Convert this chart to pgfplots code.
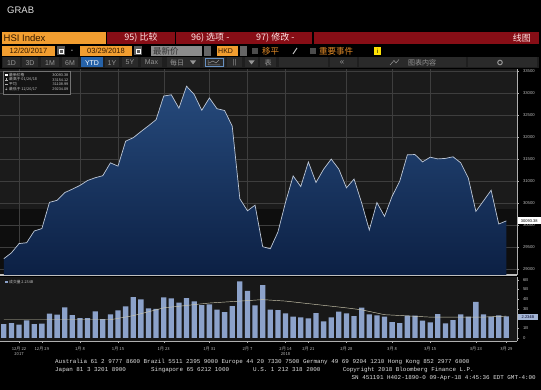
\documentclass[border=0pt]{standalone}
\usepackage{pgfplots}
\usepackage{pgfplotstable}
\pgfplotsset{compat=1.18}
\usepackage{fontspec}
\setmainfont{Liberation Sans}
\setmonofont{Liberation Mono}
\newfontfamily\cjk{Noto Sans CJK SC}
\definecolor{bbred}{RGB}{135,14,22}
\definecolor{bborange}{RGB}{242,158,48}
\definecolor{paneltop}{RGB}{27,27,27}
\definecolor{panelbot}{RGB}{14,14,14}
\definecolor{volpanel}{RGB}{24,24,24}
\definecolor{gridc}{RGB}{62,62,62}
\definecolor{pline}{RGB}{190,200,215}
\definecolor{filltop}{RGB}{38,74,124}
\definecolor{fillbot}{RGB}{12,32,68}
\definecolor{volbar}{RGB}{140,162,202}
\definecolor{macol}{RGB}{205,200,175}
\definecolor{btn}{RGB}{42,42,42}
\definecolor{btntext}{RGB}{150,150,150}
\definecolor{ytdblue}{RGB}{38,98,168}
\definecolor{tickc}{RGB}{185,185,185}
\definecolor{axisc}{RGB}{175,175,175}
\definecolor{cjkorange}{RGB}{228,140,40}

\pgfplotstableread{
i v
0 29234.09
1 29367.06
2 29578.01
3 29597.66
4 29863.71
5 29919.15
6 30515.31
7 30560.95
8 30736.48
9 30814.64
10 30899.53
11 31011.41
12 31073.72
13 31120.39
14 31412.54
15 31338.41
16 31904.75
17 31983.41
18 32121.94
19 32254.89
20 32393.41
21 32930.70
22 32958.69
23 32654.45
24 33154.12
25 32966.89
26 32607.29
27 32887.27
28 32642.09
29 32601.78
30 32245.22
31 30595.42
32 30323.20
33 30451.27
34 29507.42
35 29459.63
36 29839.52
37 30515.60
38 31115.43
39 30873.63
40 31431.89
41 30965.70
42 31267.17
43 31498.60
44 31268.66
45 30844.72
46 31044.25
47 30500.00
48 29886.33
49 30510.73
50 30196.92
51 30654.37
52 30996.21
53 31594.62
54 31601.58
55 31435.01
56 31541.10
57 31501.97
58 31513.76
59 31549.93
60 31414.52
61 31071.05
62 30309.29
63 30548.77
64 30790.83
65 30022.53
66 30093.38
}\pricetab

\pgfplotstableread{
i v
0 1.44
1 1.54
2 1.37
3 1.82
4 1.44
5 1.47
6 2.50
7 2.40
8 3.15
9 2.36
10 2.05
11 2.05
12 2.74
13 1.95
14 2.43
15 2.84
16 3.25
17 4.21
18 3.97
19 3.05
20 3.01
21 4.18
22 4.08
23 3.63
24 4.11
25 3.77
26 3.39
27 3.46
28 2.91
29 2.67
30 3.29
31 5.82
32 4.86
33 3.36
34 5.45
35 2.91
36 2.88
37 2.53
38 2.19
39 2.12
40 2.02
41 2.57
42 1.71
43 2.12
44 2.71
45 2.53
46 2.26
47 3.12
48 2.43
49 2.33
50 2.19
51 1.64
52 1.54
53 2.29
54 2.29
55 1.78
56 1.61
57 2.47
58 1.51
59 1.85
60 2.43
61 2.19
62 3.73
63 2.43
64 2.19
65 2.33
66 2.23
}\voltab

\begin{document}
\begin{tikzpicture}
\useasboundingbox (0pt,0pt) rectangle (541pt,-390pt);
\fill[black] (0pt,0pt) rectangle (541pt,-390pt);
\begin{scope}[x=1pt,y=-1pt]
% title
\node[anchor=west,inner sep=0,text=white!88!black,font=\fontsize{9.5}{10}\selectfont] at (7,10) {GRAB};
% row 1
\fill[bborange] (2,32) rectangle (106,44);
\node[anchor=west,inner sep=0,text=black!80!orange,font=\fontsize{9.5}{10}\selectfont] at (3.5,38.5) {HSI Index};
\fill[bbred] (107,32) rectangle (175,44);
\node[inner sep=0,text=white!90!red,font=\cjk\fontsize{9}{10}\selectfont] at (141,38) {95) 比较};
\fill[bbred] (176,32) rectangle (312,44);
\node[anchor=west,inner sep=0,text=white!90!red,font=\cjk\fontsize{9}{10}\selectfont] at (191,38) {96) 选项 -};
\node[anchor=west,inner sep=0,text=white!90!red,font=\cjk\fontsize{9}{10}\selectfont] at (256,38) {97) 修改 -};
\fill[bbred] (314,32) rectangle (539,44);
\node[anchor=east,inner sep=0,text=white!90!red,font=\cjk\fontsize{9}{10}\selectfont] at (531,38) {线图};
% row 2
\fill[bborange] (2,46) rectangle (55,56);
\node[inner sep=0,text=black!80!orange,font=\fontsize{7.5}{8}\selectfont] at (28.5,51.2) {12/20/2017};
\fill[black!65] (57,46.5) rectangle (65,55.5); \draw[white,line width=0.5pt] (58.8,48.8) rectangle (63.2,53.4);
\node[inner sep=0,text=white,font=\fontsize{7}{8}\selectfont] at (72,51) {-};
\fill[bborange] (80,46) rectangle (132,56);
\node[inner sep=0,text=black!80!orange,font=\fontsize{7.5}{8}\selectfont] at (106,51.2) {03/29/2018};
\fill[black!65] (134,46.5) rectangle (142,55.5); \draw[white,line width=0.5pt] (135.8,48.8) rectangle (140.2,53.4);
\fill[black!45] (151,46) rectangle (202,56);
\node[anchor=west,inner sep=0,text=black!80,font=\cjk\fontsize{8.5}{9}\selectfont] at (153,51) {最新价};
\fill[black!60] (204,46) rectangle (211,56);
\fill[bborange] (217,46) rectangle (238,56);
\node[anchor=west,inner sep=0,text=black!80!orange,font=\fontsize{7}{8}\selectfont] at (218,51.2) {HKD};
\fill[black!60] (240,46) rectangle (247,56);
\fill[black!70] (252,48) rectangle (257.5,54);
\node[anchor=west,inner sep=0,text=cjkorange,font=\cjk\fontsize{8.5}{9}\selectfont] at (262,51) {移平};
\draw[white!80!black,line width=0.9pt] (293,54) -- (297,48);
\fill[black!70] (310,48) rectangle (315.5,54);
\node[anchor=west,inner sep=0,text=cjkorange,font=\cjk\fontsize{8.5}{9}\selectfont] at (319,51) {重要事件};
\fill[yellow!85!orange] (374,47) rectangle (381,55);
\node[inner sep=0,text=black,font=\fontsize{6}{7}\selectfont] at (377.5,51) {i};
% row 3
\fill[black!88] (2,57) rectangle (539,68);
\foreach \a/\b/\t in {3/20/1D,22/38/3D,41/59/1M,62/78/6M,105/119/1Y,122/138/5Y,141/162/Max}{
  \fill[btn] (\a,57.5) rectangle (\b,67.5);
  \node[inner sep=0,text=btntext,font=\fontsize{7}{8}\selectfont] at ({(\a+\b)/2},62.6) {\t};
}
\fill[ytdblue] (81,57.5) rectangle (103,67.5);
\node[inner sep=0,text=white,font=\fontsize{7}{8}\selectfont] at (92,62.6) {YTD};
\fill[btn] (167,57.5) rectangle (200,67.5);
\node[anchor=west,inner sep=0,text=btntext,font=\cjk\fontsize{7}{8}\selectfont] at (170,62.4) {每日};
\fill[btntext] (190,60.5) -- (196,60.5) -- (193,64.5) -- cycle;
\fill[btn] (203,57.5) rectangle (225,67.5);
\draw[ytdblue!70!white,line width=0.5pt] (205,58.5) rectangle (223,66.5);
\draw[btntext,line width=0.5pt] (208,65) -- (208,60) (208,65) -- (220,65) (209,63) -- (213,61) -- (216,63) -- (219,60);
\fill[btn] (227,57.5) rectangle (242,67.5);
\node[inner sep=0,text=btntext,font=\fontsize{7}{8}\selectfont] at (234.5,62.6) {\textbar\textbar};
\fill[btn] (245,57.5) rectangle (258,67.5);
\fill[btntext] (248.5,60.5) -- (254.5,60.5) -- (251.5,64.5) -- cycle;
\fill[btn] (260,57.5) rectangle (276,67.5);
\node[inner sep=0,text=btntext,font=\cjk\fontsize{7}{8}\selectfont] at (268,62.4) {表};
\fill[btn] (279,57.5) rectangle (328,67.5);
\fill[btn] (330,57.5) rectangle (357,67.5);
\node[inner sep=0,text=btntext,font=\fontsize{8}{9}\selectfont] at (342,62.3) {«};
\fill[btn] (359,57.5) rectangle (466,67.5);
\draw[btntext,line width=0.5pt] (390,65) -- (394,60.5) -- (396,63) -- (399,59.5);
\node[anchor=west,inner sep=0,text=btntext,font=\cjk\fontsize{7}{8}\selectfont] at (408,62.4) {图表内容};
\fill[btn] (468,57.5) rectangle (537,67.5);
\draw[btntext,line width=1pt] (500,62.5) circle (2.3);
% panels
\fill[paneltop] (0,69) rectangle (517,209);
\fill[panelbot] (0,209) rectangle (517,275);
\fill[volpanel] (0,277) rectangle (517,341);
\end{scope}

% ---------- price axis ----------
\begin{axis}[
  at={(0pt,-275pt)}, anchor=south west,
  scale only axis, width=517pt, height=206pt,
  xmin=-0.5, xmax=67.4, ymin=28864, ymax=33545,
  axis x line*=bottom, axis y line*=right,
  axis line style={-},
  x axis line style={draw=white!75!black, line width=1.6pt},
  y axis line style={draw=axisc, line width=0.5pt},
  xtick={2,10,15,21,27,32,37,45,51,56}, xticklabels={},
  x tick style={draw=none},
  ytick={29000,29500,30000,30500,31000,31500,32000,32500,33000,33500},
  yticklabels={29000,29500,30000,30500,31000,31500,32000,32500,33000,33500},
  scaled y ticks=false,
  minor y tick num=4,
  y tick style={draw=axisc, line width=0.4pt},
  major tick length=2pt, minor tick length=1pt,
  tick align=outside,
  grid=major, major grid style={draw=gridc, line width=0.35pt},
  yticklabel style={font=\fontsize{4.2}{5}\selectfont, text=tickc, xshift=0.5pt},
  clip=false,
]
\addplot[draw=none, top color=filltop, bottom color=fillbot] table[x=i,y=v] {\pricetab} \closedcycle;
\addplot[color=pline, line width=0.7pt] table[x=i,y=v] {\pricetab};
\end{axis}

% ---------- volume axis ----------
\begin{axis}[
  at={(0pt,-341pt)}, anchor=south west,
  scale only axis, width=517pt, height=64pt,
  xmin=-0.5, xmax=67.4, ymin=-0.31, ymax=6.28,
  axis x line*=bottom, axis y line*=right,
  axis line style={-, draw=axisc, line width=0.5pt},
  xtick={2,5,10,15,21,27,32,37,40,45,51,56,62,66},
  xticklabels={{12月 22\\2017},12月 29,1月 8,1月 15,1月 23,1月 31,2月 7,{2月 14\\2018},2月 21,2月 28,3月 8,3月 15,3月 23,3月 29},
  minor xtick={0,1,...,66},
  ytick={0,1,2,3,4,5,6},
  yticklabels={0,1B,2B,3B,4B,5B,6B},
  scaled y ticks=false,
  minor y tick num=1,
  tick style={draw=axisc, line width=0.4pt},
  major tick length=2pt, minor tick length=1pt,
  tick align=outside,
  xticklabel style={font=\cjk\fontsize{4.2}{4.8}\selectfont, text=tickc, align=center, yshift=-0.5pt},
  yticklabel style={font=\fontsize{4.2}{5}\selectfont, text=tickc, xshift=0.5pt},
  clip=false,
]
\addplot[ybar, bar width=5.3pt, fill=volbar, draw=none] table[x=i,y=v] {\voltab};
\addplot[color=macol, line width=0.45pt] coordinates {
 (0,1.88) (14,1.88) (17,2.30) (21,3.10) (27,3.60) (31,3.80) (34,3.95) (37,3.80) (45,3.10) (47,2.90) (50,2.40) (56,2.15) (63,2.15) (66,2.25)};
\end{axis}

\begin{scope}[x=1pt,y=-1pt]
% price legend
\fill[black!92] (3,71) rectangle (70,94);
\draw[black!55,line width=0.3pt] (3,71) rectangle (70,94);
\fill[white] (5,73.8) rectangle (7.6,76.4);
\draw[black!30,line width=0.3pt] (5,79.7) -- (7.6,79.7) (6.3,78.4) -- (6.3,81);
\draw[black!30,line width=0.3pt] (5,84.3) -- (7.6,84.3);
\draw[black!30,line width=0.3pt] (6.3,87.5) -- (6.3,90) (5.3,89) -- (6.3,90) -- (7.3,89);
\node[anchor=west,inner sep=0,text=black!22,font=\cjk\fontsize{3.8}{4}\selectfont] at (9,75) {最新价格};
\node[anchor=east,inner sep=0,text=black!22,font=\fontsize{3.8}{4}\selectfont] at (68.5,75) {30093.38};
\node[anchor=west,inner sep=0,text=black!22,font=\cjk\fontsize{3.8}{4}\selectfont] at (9,79.7) {最高于 01/26/18};
\node[anchor=east,inner sep=0,text=black!22,font=\fontsize{3.8}{4}\selectfont] at (68.5,79.7) {33154.12};
\node[anchor=west,inner sep=0,text=black!22,font=\cjk\fontsize{3.8}{4}\selectfont] at (9,84.3) {平均};
\node[anchor=east,inner sep=0,text=black!22,font=\fontsize{3.8}{4}\selectfont] at (68.5,84.3) {31108.99};
\node[anchor=west,inner sep=0,text=black!22,font=\cjk\fontsize{3.8}{4}\selectfont] at (9,88.9) {最低于 12/20/17};
\node[anchor=east,inner sep=0,text=black!22,font=\fontsize{3.8}{4}\selectfont] at (68.5,88.9) {29234.09};
% volume legend
\fill[volbar] (5,280.8) rectangle (7.6,283.4);
\node[anchor=west,inner sep=0,text=black!25,font=\cjk\fontsize{3.8}{4}\selectfont] at (9,282.1) {成交量 2.234B};
% last value tags
\fill[white] (518,217.3) rectangle (540.5,224.3);
\node[inner sep=0,text=black,font=\fontsize{4}{5}\selectfont] at (529.2,220.9) {30093.38};
\fill[volbar!80!white] (518,313.5) rectangle (538,320);
\node[inner sep=0,text=black!85!blue,font=\fontsize{4}{5}\selectfont] at (528,316.8) {2.234B};
% footer
\node[anchor=west,inner sep=0,text=white!88!black,font=\ttfamily\fontsize{5.9}{6}\selectfont] at (55,362) {Australia 61 2 9777 8600 Brazil 5511 2395 9000 Europe 44 20 7330 7500 Germany 49 69 9204 1210 Hong Kong 852 2977 6000};
\node[anchor=west,inner sep=0,text=white!88!black,font=\ttfamily\fontsize{5.9}{6}\selectfont] at (55,370) {Japan 81 3 3201 8900};
\node[anchor=west,inner sep=0,text=white!88!black,font=\ttfamily\fontsize{5.9}{6}\selectfont] at (151,370) {Singapore 65 6212 1000};
\node[anchor=west,inner sep=0,text=white!88!black,font=\ttfamily\fontsize{5.9}{6}\selectfont] at (253,370) {U.S. 1 212 318 2000};
\node[anchor=east,inner sep=0,text=white!88!black,font=\ttfamily\fontsize{5.9}{6}\selectfont] at (474,370) {Copyright 2018 Bloomberg Finance L.P.};
\node[anchor=east,inner sep=0,text=white!88!black,font=\ttfamily\fontsize{5.9}{6}\selectfont] at (536,378) {SN 451191 H402-1890-0 09-Apr-18  4:45:36 EDT  GMT-4:00};
\end{scope}
\end{tikzpicture}
\end{document}
